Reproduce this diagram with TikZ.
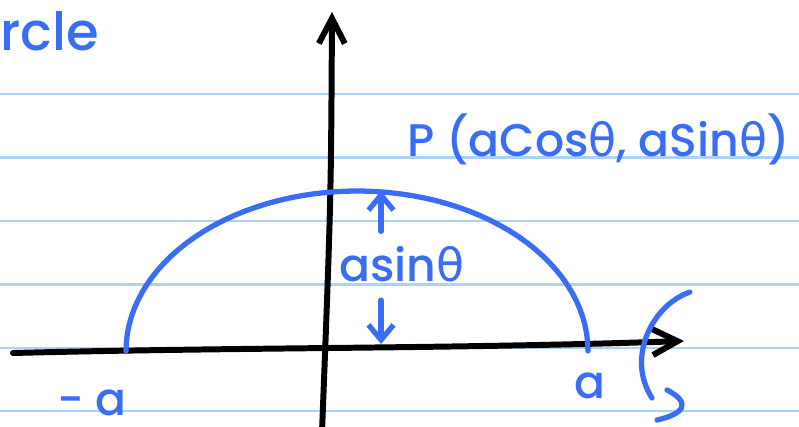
\documentclass[tikz,border=0pt]{standalone}
\usepackage{fontspec}
\setmainfont{Poppins}[BoldFont={Poppins Medium}]
\newfontfamily\greekfont{DejaVu Sans}
\usetikzlibrary{arrows.meta,calc}
\definecolor{cpen}{HTML}{3A6DF6}
\definecolor{crule}{HTML}{AAD2FA}
\newcommand{\thet}{{\greekfont\mdseries θ}}
\tikzset{
  ruled/.style={draw=crule, line width=0.6pt},
  axis/.style={draw=black, line width=1.7pt, line cap=round, line join=round,
               -{Straight Barb[length=2.5mm, width=2.6mm]}},
  pen/.style={draw=cpen, line width=1.5pt, line cap=round, line join=round},
  tip/.style={-{Straight Barb[length=1.5mm, width=2.5mm]}},
  hand/.style={text=cpen, inner sep=1pt, font=\fontsize{13}{15}\selectfont\bfseries},
}
\begin{document}
\begin{tikzpicture}[x=0.01cm, y=-0.01cm]
  \clip (0,0) rectangle (799,427);
  \fill[white] (0,0) rectangle (799,427);
  \foreach \y in {94,157.5,221,284.5,348,411}
    \draw[ruled] (0,\y) -- (799,\y);
  % axes
  \coordinate (xs) at (13,353);
  \coordinate (xe) at (684,341);
  \coordinate (ys) at (322,432);
  \coordinate (ye) at (332,12);
  \draw[axis] (xs) .. controls (250,347) and (450,349) .. (xe);
  \draw[axis] (ys) .. controls (331,200) .. (ye);
  % half ellipse
  \draw[pen] plot[domain=180:0, samples=60] ({357+231*cos(\x)}, {351-160*sin(\x)});
  \coordinate (top) at (381,191);
  \coordinate (bot) at (381,344);
  % labels
  \node[hand, anchor=base west, font=\fontsize{15}{17}\selectfont\bfseries] (title) at (-4,50) {rcle};
  \node[hand, anchor=base west] (pt) at (403,156) {P (aCos\thet, aSin\thet)};
  \node[hand] (sinlab) at (402,264) {asin\thet};
  \node[hand] (ma) at (92,403) {- a};
  \node[hand] (pa) at (590,386) {a};
  \draw[pen, tip, shorten <=3pt] (sinlab.north -| top) -- (top);
  \draw[pen, tip, shorten <=4pt] (sinlab.south -| bot) -- (bot);
  % bracket at the right
  \draw[pen] (690,292) .. controls (652,305) and (626,358) .. (652,398);
  \draw[pen] (667,390) .. controls (692,403) and (684,414) .. (657,420);
\end{tikzpicture}
\end{document}
